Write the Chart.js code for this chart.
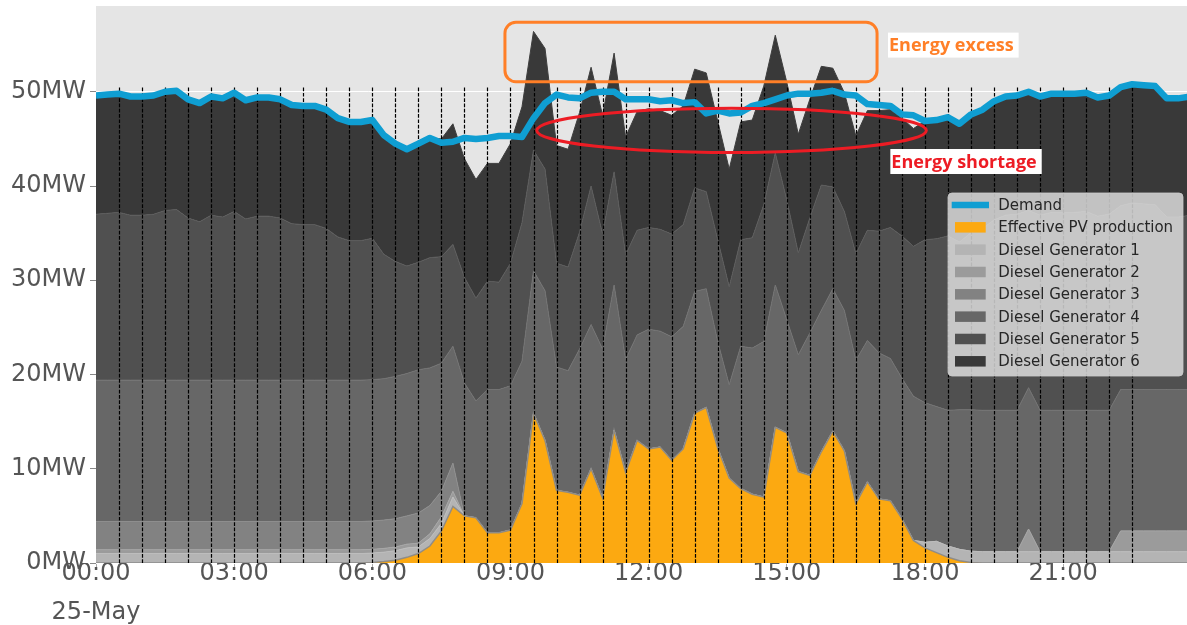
<!DOCTYPE html>
<html><head><meta charset="utf-8">
<script src="https://cdn.jsdelivr.net/npm/chart.js@4.4.1/dist/chart.umd.min.js"></script>
<style>html,body{margin:0;padding:0;background:#fff;} canvas{display:block;}</style>
</head><body>
<canvas id="c" width="1187" height="625" style="width:1187px;height:625px"></canvas>
<script>
// ---------- data ----------
const times = [
"00:00","00:15","00:30","00:45","01:00","01:15","01:30","01:45",
"02:00","02:15","02:30","02:45","03:00","03:15","03:30","03:45",
"04:00","04:15","04:30","04:45","05:00","05:15","05:30","05:45",
"06:00","06:15","06:30","06:45","07:00","07:15","07:30","07:45",
"08:00","08:15","08:30","08:45","09:00","09:15","09:30","09:45",
"10:00","10:15","10:30","10:45","11:00","11:15","11:30","11:45",
"12:00","12:15","12:30","12:45","13:00","13:15","13:30","13:45",
"14:00","14:15","14:30","14:45","15:00","15:15","15:30","15:45",
"16:00","16:15","16:30","16:45","17:00","17:15","17:30","17:45",
"18:00","18:15","18:30","18:45","19:00","19:15","19:30","19:45",
"20:00","20:15","20:30","20:45","21:00","21:15","21:30","21:45",
"22:00","22:15","22:30","22:45","23:00","23:15","23:30","23:45"];

const demand = [
49.6,49.7,49.8,49.5,49.5,49.6,50.0,50.1,49.2,48.8,49.5,49.3,49.9,49.1,49.4,49.4,
49.2,48.6,48.5,48.5,48.1,47.2,46.8,46.8,47.0,45.4,44.5,43.9,44.5,45.1,44.6,44.7,
45.1,45.0,45.1,45.3,45.3,45.2,47.2,48.8,49.7,49.4,49.3,49.9,50.0,50.0,49.2,49.2,
49.2,49.0,49.1,48.8,48.9,47.7,48.0,47.7,47.8,48.5,48.8,49.2,49.6,49.8,49.8,49.9,
50.1,49.7,49.6,48.7,48.6,48.5,47.6,47.5,46.9,47.0,47.3,46.6,47.6,48.1,49.0,49.5,
49.6,50.0,49.5,49.8,49.8,49.8,49.9,49.4,49.6,50.5,50.8,50.7,50.6,49.3,49.3,49.5];

const pvProduction = [
0,0,0,0,0,0,0,0,0,0,0,0,0,0,0,0,
0,0,0,0,0,0,0,0,0.05,0.15,0.3,0.6,1.0,1.8,3.4,6.0,
5.0,4.8,3.2,3.2,3.5,6.3,15.9,13.0,7.7,7.5,7.2,10.0,6.9,14.1,9.6,13.0,
12.1,12.3,10.9,12.1,15.9,16.5,12.2,9.0,7.9,7.3,7.0,14.4,13.8,9.7,9.3,11.8,
14.0,11.9,6.3,8.6,6.8,6.6,4.7,2.4,1.6,1.1,0.6,0.25,0.05,0,0,0,
0,0,0,0,0,0,0,0,0,0,0,0,0,0,0,0];

const diesel1 = [
1.0,1.0,1.0,1.0,1.0,1.0,1.0,1.0,1.0,1.0,1.0,1.0,1.0,1.0,1.0,1.0,
1.0,1.0,1.0,1.0,1.0,1.0,1.0,1.0,1.0,1.0,1.0,1.0,0.7,0.8,0.8,1.0,
0,0,0,0,0,0,0,0,0,0,0,0,0,0,0,0,
0,0,0,0,0,0,0,0,0,0,0,0,0,0,0,0,
0,0,0,0,0,0,0,0,0.6,1.2,1.2,1.2,1.2,1.2,1.2,1.2,
1.2,1.2,1.2,1.2,1.2,1.2,1.2,1.2,1.2,1.2,1.2,1.2,1.2,1.2,1.2,1.2];

const diesel2 = [
0.4,0.4,0.4,0.4,0.4,0.4,0.4,0.4,0.4,0.4,0.4,0.4,0.4,0.4,0.4,0.4,
0.4,0.4,0.4,0.4,0.4,0.4,0.4,0.4,0.4,0.4,0.4,0.4,0.4,0.5,0.7,0.6,
0,0,0,0,0,0,0,0,0,0,0,0,0,0,0,0,
0,0,0,0,0,0,0,0,0,0,0,0,0,0,0,0,
0,0,0,0,0,0,0,0,0,0,0,0,0,0,0,0,
0,2.4,0,0,0,0,0,0,0,2.2,2.2,2.2,2.2,2.2,2.2,2.2];

const diesel3 = [
3.0,3.0,3.0,3.0,3.0,3.0,3.0,3.0,3.0,3.0,3.0,3.0,3.0,3.0,3.0,3.0,
3.0,3.0,3.0,3.0,3.0,3.0,3.0,3.0,3.0,3.0,3.0,3.0,3.2,3.0,2.7,3.0,
0,0,0,0,0,0,0,0,0,0,0,0,0,0,0,0,
0,0,0,0,0,0,0,0,0,0,0,0,0,0,0,0,
0,0,0,0,0,0,0,0,0,0,0,0,0,0,0,0,
0,0,0,0,0,0,0,0,0,0,0,0,0,0,0,0];

const diesel4 = [
15.0,15.0,15.0,15.0,15.0,15.0,15.0,15.0,15.0,15.0,15.0,15.0,15.0,15.0,15.0,15.0,
15.0,15.0,15.0,15.0,15.0,15.0,15.0,15.0,15.0,15.0,15.1,15.1,15.2,14.6,13.6,12.4,
14.1,12.4,15.2,15.2,15.3,15.1,15.1,15.9,13.1,12.9,15.5,15.3,15.8,15.4,12.0,11.2,
12.7,12.3,13.1,13.0,12.9,12.6,11.3,9.9,15.1,15.5,16.5,15.1,12.0,12.4,15.1,15.0,
15.1,14.9,15.2,15.0,15.5,15.1,14.9,15.3,14.8,14.3,14.4,14.8,15.0,15.0,15.0,15.0,
15.0,15.0,15.0,15.0,15.0,15.0,15.0,15.0,15.0,15.0,15.0,15.0,15.0,15.0,15.0,15.0];

const diesel5 = [
17.6,17.7,17.8,17.5,17.5,17.6,18.0,18.1,17.2,16.8,17.5,17.3,17.9,17.1,17.4,17.4,
17.2,16.6,16.5,16.5,16.1,15.2,14.8,14.8,15.0,13.2,12.2,11.4,11.4,11.7,11.3,10.8,
11.2,10.9,11.5,11.4,13.0,14.7,12.8,12.9,11.0,11.0,12.4,14.7,12.2,12.0,11.1,11.1,
10.8,10.8,10.9,10.8,11.0,10.3,10.8,10.4,11.3,11.7,14.5,14.0,12.7,10.8,12.2,13.3,
10.8,10.5,11.3,11.7,12.9,13.9,15.1,15.9,17.3,17.8,18.5,17.8,18.8,19.3,20.2,20.7,
20.8,18.8,20.7,21.0,21.0,21.0,21.1,20.6,20.8,19.5,19.8,19.7,19.6,18.3,18.3,18.5];

const diesel6 = [
12.6,12.6,12.6,12.6,12.6,12.6,12.6,12.6,12.6,12.6,12.6,12.6,12.6,12.6,12.6,12.6,
12.6,12.6,12.6,12.6,12.6,12.6,12.6,12.6,12.6,12.6,12.5,12.4,12.6,12.7,12.5,12.8,
12.6,12.6,12.5,12.6,12.7,12.3,12.6,12.8,12.5,12.5,12.7,12.6,12.6,12.6,12.5,12.6,
12.6,12.6,12.6,12.6,12.6,12.6,12.6,12.5,12.5,12.5,12.6,12.5,12.5,12.6,12.6,12.6,
12.6,12.6,12.5,12.7,12.8,12.5,12.5,12.5,12.6,12.6,12.6,12.6,12.6,12.6,12.6,12.6,
12.6,12.6,12.6,12.6,12.6,12.6,12.6,12.6,12.6,12.6,12.6,12.6,12.6,12.6,12.6,12.6];

// dispatch step boundaries (hours) shown as dashed verticals
const stepLines = [0.5,1,1.5,2,2.5,3,3.5,4,4.5,5,5.5,6,6.5,7,7.5,8,8.5,9,9.5,10,10.5,11,11.5,12,
  12.5,13,13.5,14,14.5,15,15.5,16,16.5,17,17.5,18,18.5,19,19.5,20,20.5,21,21.5,22,22.5];
const stepLineTop = 50.6;

const xTickHours = [0,3,6,9,12,15,18,21];
const xTickLabels = ["00:00","03:00","06:00","09:00","12:00","15:00","18:00","21:00"];
const dateLabel = "25-May";
const yTicks = [0,10,20,30,40,50];

// annotations (data coordinates: hours, MW)
const excessBox = {x0: 8.88, x1: 16.96, y0: 51.07, y1: 57.37};
const shortageEllipse = {cx: 13.8, cy: 45.9, rx: 4.23, ry: 2.35};
const excessLabel = {text: "Energy excess", x: 17.22, y: 54.95};
const shortageLabel = {text: "Energy shortage", x: 17.27, y: 42.6};

// ---------- helpers ----------
const hours = times.map(t => +t.slice(0,2) + (+t.slice(3))/60);
const pts = arr => arr.map((v,i) => ({x: hours[i], y: v}));

Chart.defaults.font.family = "'DejaVu Sans', sans-serif";

function rr(ctx, x, y, w, h, r) {
  ctx.beginPath();
  ctx.moveTo(x + r, y);
  ctx.arcTo(x + w, y, x + w, y + h, r);
  ctx.arcTo(x + w, y + h, x, y + h, r);
  ctx.arcTo(x, y + h, x, y, r);
  ctx.arcTo(x, y, x + w, y, r);
  ctx.closePath();
}

const bgPlugin = {
  id: 'bg',
  beforeDraw(chart) {
    const {ctx, chartArea: a} = chart;
    ctx.save();
    ctx.fillStyle = '#ffffff'; ctx.fillRect(0, 0, chart.width, chart.height);
    ctx.fillStyle = '#E5E5E5'; ctx.fillRect(a.left, a.top, a.right - a.left, a.bottom - a.top);
    ctx.restore();
  }
};

const stepPlugin = {
  id: 'steps',
  beforeDatasetDraw(chart, args) {
    if (args.index !== 0) return;
    const {ctx, chartArea: a} = chart;
    const xs = chart.scales.x, ys = chart.scales.y;
    ctx.save();
    ctx.beginPath(); ctx.rect(a.left, a.top, a.right - a.left, a.bottom - a.top); ctx.clip();
    ctx.strokeStyle = '#000'; ctx.lineWidth = 1.2; ctx.setLineDash([3.7, 1.6]);
    const yT = ys.getPixelForValue(stepLineTop), yB = ys.getPixelForValue(0);
    stepLines.forEach(h => {
      const px = Math.round(xs.getPixelForValue(h)) + 0.5;
      ctx.beginPath(); ctx.moveTo(px, yB); ctx.lineTo(px, yT); ctx.stroke();
    });
    ctx.restore();
  }
};

const annotPlugin = {
  id: 'annot',
  afterDatasetsDraw(chart) {
    const {ctx} = chart;
    const xs = chart.scales.x, ys = chart.scales.y;
    ctx.save();
    const bx0 = xs.getPixelForValue(excessBox.x0), bx1 = xs.getPixelForValue(excessBox.x1);
    const by0 = ys.getPixelForValue(excessBox.y1), by1 = ys.getPixelForValue(excessBox.y0);
    ctx.strokeStyle = '#FF7F27'; ctx.lineWidth = 3;
    rr(ctx, bx0, by0, bx1 - bx0, by1 - by0, 11); ctx.stroke();
    const ex = xs.getPixelForValue(shortageEllipse.cx), ey = ys.getPixelForValue(shortageEllipse.cy);
    const erx = xs.getPixelForValue(shortageEllipse.cx + shortageEllipse.rx) - ex;
    const ery = ey - ys.getPixelForValue(shortageEllipse.cy + shortageEllipse.ry);
    ctx.strokeStyle = '#ED1C24'; ctx.lineWidth = 3;
    ctx.beginPath(); ctx.ellipse(ex, ey, erx, ery, 0, 0, Math.PI * 2); ctx.stroke();
    ctx.font = "bold 18px 'Open Sans', sans-serif";
    ctx.textBaseline = 'middle';
    [[excessLabel, '#FF7F27'], [shortageLabel, '#ED1C24']].forEach(([L, col]) => {
      const tx = xs.getPixelForValue(L.x), ty = ys.getPixelForValue(L.y);
      const w = ctx.measureText(L.text).width;
      ctx.fillStyle = '#ffffff'; ctx.fillRect(tx - 1, ty - 12.5, w + 6, 25);
      ctx.fillStyle = col; ctx.fillText(L.text, tx, ty + 1);
    });
    ctx.restore();
  }
};

const legendBox = {x: 948, y: 193, w: 235, h: 183, firstRow: 12, rowGap: 22.33};
const legendPlugin = {
  id: 'boxLegend',
  afterDraw(chart) {
    const {ctx} = chart;
    const L = legendBox;
    ctx.save();
    rr(ctx, L.x, L.y, L.w, L.h, 4);
    ctx.fillStyle = 'rgba(229,229,229,0.8)'; ctx.fill();
    ctx.strokeStyle = 'rgba(204,204,204,0.8)'; ctx.lineWidth = 1; ctx.stroke();
    ctx.font = "15px 'DejaVu Sans', sans-serif";
    ctx.textBaseline = 'middle';
    chart.data.datasets.forEach((ds, i) => {
      const cy = L.y + L.firstRow + i * L.rowGap;
      if (ds.fill === false) {
        ctx.strokeStyle = ds.borderColor; ctx.lineWidth = ds.borderWidth;
        ctx.beginPath(); ctx.moveTo(L.x + 3.7, cy); ctx.lineTo(L.x + 41, cy); ctx.stroke();
      } else {
        ctx.fillStyle = ds.backgroundColor;
        ctx.fillRect(L.x + 7, cy - 5.25, 30.7, 10.5);
      }
      ctx.fillStyle = '#262626';
      ctx.fillText(ds.label, L.x + 50.3, cy + 1);
    });
    ctx.restore();
  }
};

const area = (label, arr, fill, bg, border, bw) => ({
  label, data: pts(arr), stack: 'gen', fill, backgroundColor: bg,
  borderColor: border, borderWidth: bw, pointRadius: 0, tension: 0
});

new Chart(document.getElementById('c'), {
  type: 'line',
  data: {
    datasets: [
      {label: 'Demand', data: pts(demand), stack: 'dem', fill: false, borderColor: '#0F9ED2',
       borderWidth: 6.5, pointRadius: 0, tension: 0, borderJoinStyle: 'round', clip: 0},
      area('Effective PV production', pvProduction, 'origin', 'rgb(252,169,17)', 'rgba(135,135,135,0.9)', 1.5),
      area('Diesel Generator 1', diesel1, '-1', '#B4B4B4', '#BDBDBD', 1),
      area('Diesel Generator 2', diesel2, '-1', '#9B9B9B', '#A6A6A6', 1),
      area('Diesel Generator 3', diesel3, '-1', '#828282', '#8E8E8E', 1),
      area('Diesel Generator 4', diesel4, '-1', '#676767', '#727272', 1),
      area('Diesel Generator 5', diesel5, '-1', '#505050', '#5B5B5B', 1),
      area('Diesel Generator 6', diesel6, '-1', '#393939', '#3E3E3E', 1)
    ]
  },
  options: {
    responsive: false, animation: false, devicePixelRatio: 1,
    layout: {padding: {top: 6, right: 0, left: 0, bottom: 0}},
    plugins: {legend: {display: false}, tooltip: {enabled: false}},
    scales: {
      x: {
        type: 'linear', min: 0, max: 23.69,
        grid: {drawOnChartArea: false, drawTicks: true, tickLength: 4, tickColor: '#AAAAAA'},
        border: {display: false},
        afterBuildTicks: s => { s.ticks = xTickHours.map(v => ({value: v})); },
        afterFit: s => { s.height = 62; s.paddingLeft = 0; s.paddingRight = 0; },
        ticks: {
          autoSkip: false, maxRotation: 0, color: '#555555', padding: -12,
          font: {size: 24, lineHeight: 1.6},
          callback: v => { const k = xTickHours.indexOf(v); return k === 0 ? [xTickLabels[0], dateLabel] : xTickLabels[k]; }
        }
      },
      y: {
        type: 'linear', stacked: true, min: 0, max: 59.1,
        grid: {color: '#FFFFFF', lineWidth: 1, tickLength: 6, tickColor: '#888888'},
        border: {display: false},
        afterBuildTicks: s => { s.ticks = yTicks.map(v => ({value: v})); },
        afterFit: s => { s.width = 96; s.paddingTop = 0; s.paddingBottom = 0; },
        ticks: {color: '#555555', padding: 4, font: {size: 24}, callback: v => v + 'MW'}
      }
    }
  },
  plugins: [bgPlugin, stepPlugin, annotPlugin, legendPlugin]
});
</script>
</body></html>
